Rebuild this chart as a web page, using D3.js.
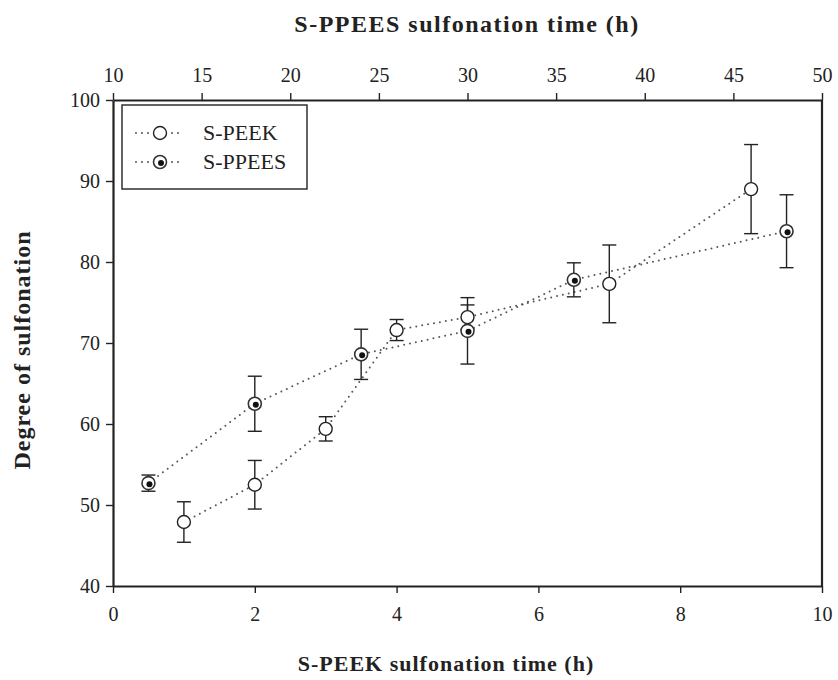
<!DOCTYPE html>
<html>
<head>
<meta charset="utf-8">
<script src="https://cdn.jsdelivr.net/npm/d3@7"></script>
<style>
  body { margin: 0; background: #fff; }
  svg { display: block; }
  .axis path, .axis line { stroke: #222; }
</style>
</head>
<body>
<svg id="chart" width="838" height="680"></svg>
<script>
//

// S-PEEK, bottom axis (h)
const peekTime = [1, 2, 3, 4, 5, 7, 9]
const peekDS = [47.9, 52.5, 59.4, 71.6, 73.2, 77.3, 89.0]
const peekErr = [2.5, 3.0, 1.5, 1.3, 1.5, 4.8, 5.5]

// S-PPEES, top axis (h)
const ppeesTime = [12, 18, 24, 30, 36, 48]
const ppeesDS = [52.7, 62.5, 68.6, 71.5, 77.8, 83.8]
const ppeesErr = [1.0, 3.4, 3.1, 4.1, 2.1, 4.5]

const bottomTicks = [0, 2, 4, 6, 8, 10]
const topTicks = [10, 15, 20, 25, 30, 35, 40, 45, 50]
const yTicks = [40, 50, 60, 70, 80, 90, 100]

const legendLabels = ['S-PEEK', 'S-PPEES']

const serif = '"Liberation Serif", "DejaVu Serif", serif'

//

const svg = d3.select('#chart').attr('font-family', serif)
const margin = {top: 100, right: 16, bottom: 94, left: 113}
const width = 838 - margin.left - margin.right
const height = 680 - margin.top - margin.bottom

const x = d3.scaleLinear().domain([0, 10]).range([0, width])
const xTop = d3.scaleLinear().domain([10, 50]).range([0, width])
const y = d3.scaleLinear().domain([40, 100]).range([height, 0])

const g = svg.append('g')
  .attr('transform', 'translate(' + margin.left + ',' + margin.top + ')')

// axes
g.append('g')
  .attr('class', 'axis')
  .attr('transform', 'translate(0,' + height + ')')
  .call(d3.axisBottom(x).tickValues(bottomTicks).tickSize(7).tickPadding(14).tickSizeOuter(0))

g.append('g')
  .attr('class', 'axis')
  .call(d3.axisTop(xTop).tickValues(topTicks).tickSize(7).tickPadding(11).tickSizeOuter(0))

g.append('g')
  .attr('class', 'axis')
  .call(d3.axisLeft(y).tickValues(yTicks).tickSize(7).tickPadding(6).tickSizeOuter(0))

g.selectAll('.axis')
  .attr('font-family', serif)
  .attr('font-size', 20)
g.selectAll('.axis text').attr('fill', '#222')

g.append('line')
  .attr('x1', width).attr('x2', width)
  .attr('y1', 0).attr('y2', height)
  .attr('stroke', '#222')

g.selectAll('.axis path').attr('stroke-width', 2.2)
g.selectAll('.axis line').attr('stroke-width', 1.4)
g.selectAll('line').filter(function () { return !this.closest('.tick') }).attr('stroke-width', 2.2)

// titles
svg.append('text')
  .attr('x', 467).attr('y', 32)
  .attr('text-anchor', 'middle')
  .attr('font-size', 24).attr('font-weight', 'bold')
  .attr('letter-spacing', 1.5)
  .attr('fill', '#222')
  .text('S-PPEES sulfonation time (h)')

svg.append('text')
  .attr('x', 446).attr('y', 671)
  .attr('text-anchor', 'middle')
  .attr('font-size', 22).attr('font-weight', 'bold')
  .attr('letter-spacing', 1)
  .attr('fill', '#222')
  .text('S-PEEK sulfonation time (h)')

svg.append('text')
  .attr('transform', 'translate(30,' + 350 + ') rotate(-90)')
  .attr('text-anchor', 'middle')
  .attr('font-size', 24).attr('font-weight', 'bold')
  .attr('letter-spacing', 1)
  .attr('fill', '#222')
  .text('Degree of sulfonation')

//

const peek = peekTime.map((t, i) => ({ px: x(t), v: peekDS[i], e: peekErr[i] }))
const ppees = ppeesTime.map((t, i) => ({ px: xTop(t), v: ppeesDS[i], e: ppeesErr[i] }))

const line = d3.line().x(d => d.px).y(d => y(d.v))

function dotted (sel) {
  sel.attr('fill', 'none')
    .attr('stroke', '#555')
    .attr('stroke-width', 2)
    .attr('stroke-linecap', 'round')
    .attr('stroke-dasharray', '0,6')
}

g.append('path').datum(peek).attr('d', line).call(dotted)
g.append('path').datum(ppees).attr('d', line).call(dotted)

function errorBars (data) {
  const eb = g.append('g').attr('stroke', '#222').attr('stroke-width', 1.4)
  eb.selectAll('.v').data(data).enter().append('line')
    .attr('x1', d => d.px).attr('x2', d => d.px)
    .attr('y1', d => y(d.v + d.e)).attr('y2', d => y(d.v - d.e))
  eb.selectAll('.t').data(data).enter().append('line')
    .attr('x1', d => d.px - 7).attr('x2', d => d.px + 7)
    .attr('y1', d => y(d.v + d.e)).attr('y2', d => y(d.v + d.e))
  eb.selectAll('.b').data(data).enter().append('line')
    .attr('x1', d => d.px - 7).attr('x2', d => d.px + 7)
    .attr('y1', d => y(d.v - d.e)).attr('y2', d => y(d.v - d.e))
}

errorBars(peek)
errorBars(ppees)

function openMarker (sel) {
  sel.append('circle').attr('r', 6.5)
    .attr('fill', '#fff').attr('stroke', '#222').attr('stroke-width', 1.4)
}

function dotMarker (sel) {
  sel.append('circle').attr('r', 6.5)
    .attr('fill', '#fff').attr('stroke', '#333').attr('stroke-width', 1.6)
  sel.append('circle').attr('r', 3).attr('cx', 1).attr('cy', 1).attr('fill', '#111')
}

g.selectAll('.peek').data(peek).enter().append('g')
  .attr('transform', d => 'translate(' + d.px + ',' + y(d.v) + ')')
  .call(openMarker)

g.selectAll('.ppees').data(ppees).enter().append('g')
  .attr('transform', d => 'translate(' + d.px + ',' + y(d.v) + ')')
  .call(dotMarker)

// legend
const legend = svg.append('g').attr('transform', 'translate(122,105)')
legend.append('rect')
  .attr('width', 185).attr('height', 84)
  .attr('fill', '#fff').attr('stroke', '#222').attr('stroke-width', 1.4)

legendLabels.forEach((label, i) => {
  const row = legend.append('g').attr('transform', 'translate(0,' + (28 + i * 29) + ')')
  row.append('path').attr('d', 'M14,0 H62').call(dotted)
  const m = row.append('g').attr('transform', 'translate(38,0)')
  if (i === 0) m.call(openMarker)
  else m.call(dotMarker)
  row.append('text')
    .attr('x', 81).attr('y', 7)
    .attr('font-size', 22)
    .attr('fill', '#222')
    .text(label)
})
</script>
</body>
</html>
